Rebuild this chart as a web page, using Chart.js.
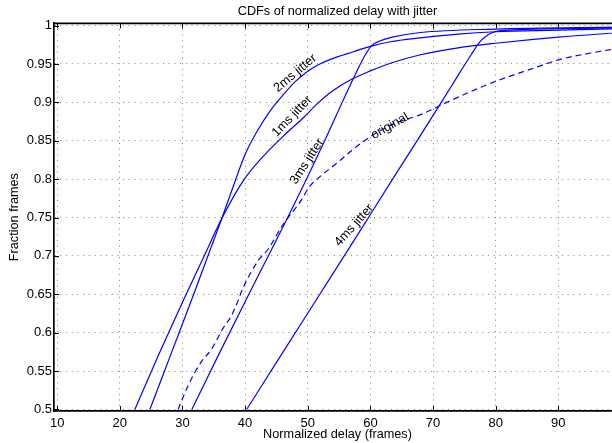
<!DOCTYPE html>
<html>
<head>
<meta charset="utf-8">
<script src="https://cdn.jsdelivr.net/npm/chart.js@4/dist/chart.umd.min.js"></script>
<style>
  html, body { margin: 0; padding: 0; background: #fff; overflow: hidden; }
  #wrap { width: 612px; height: 443px; overflow: hidden; }
</style>
</head>
<body>
<div id="wrap"><canvas id="cdf" width="622" height="443"></canvas></div>
<script>
// values (delay in frames, fraction of frames)
const xTicks = [10, 20, 30, 40, 50, 60, 70, 80, 90];
const yTicks = [0.5, 0.55, 0.6, 0.65, 0.7, 0.75, 0.8, 0.85, 0.9, 0.95, 1];

const delay1ms = [22.4, 26.4, 30.3, 33.3, 36.3, 39.8, 42.7, 46.1, 49.3, 51.5, 54, 57, 60, 63.2, 68, 74, 80, 90, 100];
const frac1ms  = [0.5, 0.575, 0.645, 0.697, 0.749, 0.799, 0.828, 0.856, 0.88, 0.898, 0.915, 0.93, 0.941, 0.951, 0.962, 0.971, 0.977, 0.985, 0.991];

const delay2ms = [24.8, 28.3, 31.8, 36.3, 38.3, 40, 41.9, 44, 46.1, 48, 49.9, 51.7, 53.6, 57.3, 60, 63.2, 68, 74, 80, 90, 100];
const frac2ms  = [0.5, 0.575, 0.65, 0.749, 0.795, 0.832, 0.862, 0.889, 0.91, 0.927, 0.94, 0.949, 0.956, 0.966, 0.973, 0.979, 0.984, 0.989, 0.992, 0.994, 0.996];

const delay3ms = [31.5, 36, 40.6, 43.7, 46.8, 49.8, 52.7, 55.5, 57.8, 59.2, 60.2, 61.5, 63.5, 68, 80, 100];
const frac3ms  = [0.5, 0.575, 0.65, 0.7, 0.75, 0.8, 0.85, 0.9, 0.94, 0.962, 0.974, 0.98, 0.985, 0.991, 0.9955, 0.998];

const delay4ms = [40.25, 46, 52, 58, 63.4, 68, 73, 76, 77.5, 78.8, 79.9, 82, 90, 100];
const frac4ms  = [0.5, 0.574, 0.651, 0.728, 0.798, 0.857, 0.922, 0.961, 0.979, 0.988, 0.992, 0.994, 0.996, 0.997];

const delayOrig = [29.3, 30.9, 32.1, 33.1, 34.6, 36.5, 37.75, 38.7, 39.6, 42.1, 43.7, 45.9, 49, 50.25, 51.5, 55.25, 57.1, 60.9, 64, 68, 72.2, 76, 80.2, 85.5, 90.3, 95, 100];
const fracOrig  = [0.5, 0.531, 0.55, 0.563, 0.578, 0.606, 0.621, 0.638, 0.657, 0.694, 0.709, 0.739, 0.773, 0.79, 0.8, 0.825, 0.838, 0.86, 0.873, 0.884, 0.9, 0.914, 0.928, 0.943, 0.956, 0.964, 0.971];

const curveNames = ['1ms jitter', '2ms jitter', '3ms jitter', '4ms jitter', 'original'];

// in-plot text labels, anchored in data coordinates
const curveTags = [
  { text: '2ms jitter', x: 48.0, y: 0.938, angle: -40 },
  { text: '1ms jitter', x: 47.5, y: 0.882, angle: -46 },
  { text: '3ms jitter', x: 49.9, y: 0.823, angle: -57 },
  { text: 'original',   x: 63.1, y: 0.869, angle: -29 },
  { text: '4ms jitter', x: 57.4, y: 0.740, angle: -48 }
];

const FONT = 'Liberation Sans, Arial, Helvetica, sans-serif';
const BLUE = '#0000ff';

const zip = (xs, ys) => xs.map((x, i) => ({ x, y: ys[i] }));

const series = [
  zip(delay1ms, frac1ms),
  zip(delay2ms, frac2ms),
  zip(delay3ms, frac3ms),
  zip(delay4ms, frac4ms),
  zip(delayOrig, fracOrig)
];

const datasets = series.map((data, i) => ({
  label: curveNames[i],
  data,
  borderColor: BLUE,
  borderWidth: 1.2,
  borderDash: curveNames[i] === 'original' ? [6, 4] : [],
  pointRadius: 0,
  fill: false,
  cubicInterpolationMode: 'monotone'
}));

// title above the axes, inward tick marks, top box edge, curve tags
const decorations = {
  id: 'decorations',
  afterDraw(chart) {
    const { ctx, chartArea: a, scales: { x, y } } = chart;
    ctx.save();
    ctx.strokeStyle = '#000';
    ctx.lineWidth = 1;
    ctx.beginPath();
    xTicks.forEach(v => {
      const px = Math.round(x.getPixelForValue(v)) + 0.5;
      ctx.moveTo(px, a.bottom); ctx.lineTo(px, a.bottom - 5);
      ctx.moveTo(px, a.top); ctx.lineTo(px, a.top + 5);
    });
    yTicks.forEach(v => {
      const py = Math.round(y.getPixelForValue(v)) + 0.5;
      ctx.moveTo(a.left, py); ctx.lineTo(a.left + 5, py);
      ctx.moveTo(a.right, py); ctx.lineTo(a.right - 5, py);
    });
    ctx.stroke();

    ctx.lineWidth = 1.7;
    ctx.beginPath();
    ctx.moveTo(a.left, a.top); ctx.lineTo(a.right, a.top); ctx.lineTo(a.right, a.bottom);
    ctx.stroke();

    ctx.fillStyle = '#000';
    ctx.font = '12.7px ' + FONT;
    ctx.textAlign = 'center';
    ctx.textBaseline = 'middle';
    ctx.fillText('CDFs of normalized delay with jitter', (a.left + a.right) / 2, 11.5);

    curveTags.forEach(t => {
      ctx.save();
      ctx.translate(x.getPixelForValue(t.x), y.getPixelForValue(t.y));
      ctx.rotate(t.angle * Math.PI / 180);
      ctx.fillText(t.text, 0, 0);
      ctx.restore();
    });
    ctx.restore();
  }
};

new Chart(document.getElementById('cdf'), {
  type: 'line',
  data: { datasets },
  plugins: [decorations],
  options: {
    responsive: false,
    devicePixelRatio: 1,
    animation: false,
    layout: { padding: { top: 23.3, right: 1, left: 0, bottom: 0 } },
    plugins: {
      legend: { display: false },
      tooltip: { enabled: false },
      title: { display: false }
    },
    scales: {
      x: {
        type: 'linear',
        min: 9.5,
        max: 100,
        afterBuildTicks: s => { s.ticks = xTicks.map(v => ({ value: v })); },
        afterFit: s => { s.height = 443 - 411; },
        border: { color: '#000', width: 1.7, dash: [1, 4.7] },
        grid: { color: '#808080', lineWidth: 1, drawTicks: false },
        ticks: { color: '#000', padding: 5, font: { family: FONT, size: 13 }, maxRotation: 0, autoSkip: false },
        title: { display: true, text: 'Normalized delay (frames)', color: '#000', font: { family: FONT, size: 12.7 }, padding: { top: 0, bottom: 1 } }
      },
      y: {
        type: 'linear',
        min: 0.498,
        max: 1.003,
        afterBuildTicks: s => { s.ticks = yTicks.map(v => ({ value: v })); },
        afterFit: s => { s.width = 54; },
        border: { color: '#000', width: 1.7, dash: [1, 4.7] },
        grid: { color: '#808080', lineWidth: 1, drawTicks: false },
        ticks: { color: '#000', padding: 2, font: { family: FONT, size: 13 }, autoSkip: false, callback: v => String(+v.toFixed(2)) },
        title: { display: true, text: 'Fraction frames', color: '#000', font: { family: FONT, size: 12.7 }, padding: { top: 7, bottom: 0 } }
      }
    }
  }
});
</script>
</body>
</html>
